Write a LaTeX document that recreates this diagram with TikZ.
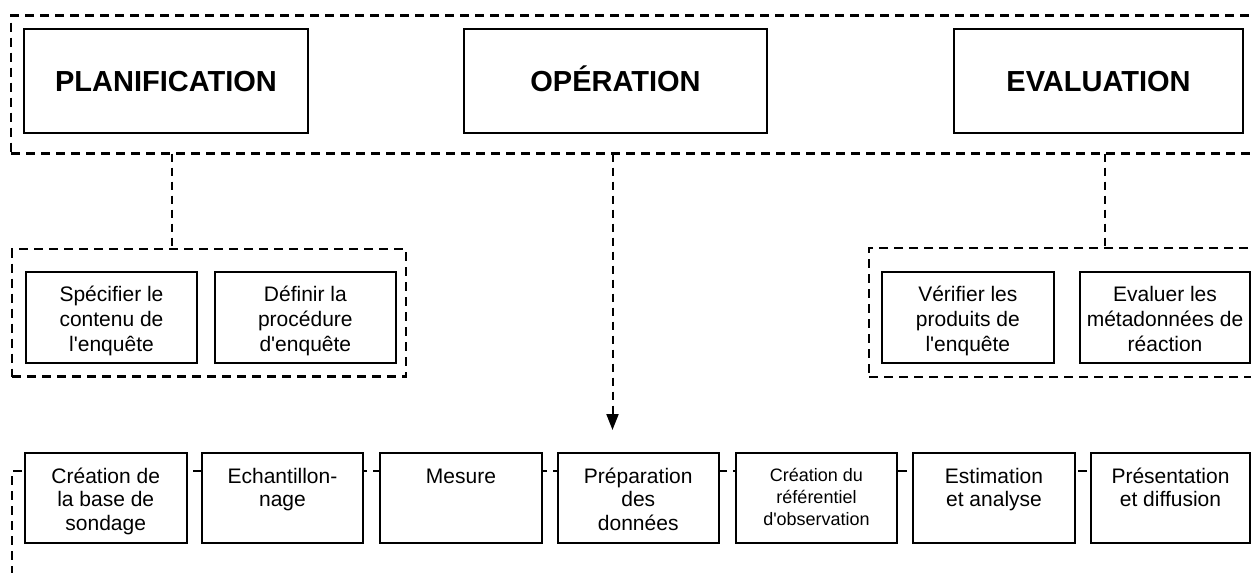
\documentclass[tikz,border=0pt]{standalone}
\usepackage{fontspec}
\setmainfont{Liberation Sans}[Ligatures=TeXOff]
\usetikzlibrary{arrows.meta}
\newcommand{\mylines}[3]{\parbox[t]{#1}{\centering\rule{0pt}{#2}#3}}
\begin{document}
\begin{tikzpicture}[x=1pt,y=-1pt,
  solidbox/.style={draw=black, line width=2pt, fill=white, inner sep=0pt, outer sep=0pt, anchor=north west},
  headbox/.style={solidbox, font=\fontsize{29}{34}\selectfont\bfseries, text height=20.8pt, text depth=0pt},
  grp/.style={draw=black, line width=2.5pt, dash pattern=on 9pt off 6pt, inner sep=0pt, outer sep=0pt, anchor=north west},
  link/.style={draw=black, line width=2pt, dash pattern=on 8pt off 6pt},
  txt/.style={anchor=north, inner sep=0pt, outer sep=0pt},
  bigtxt/.style={txt, font=\fontsize{21}{23.5}\selectfont},
  subtxt/.style={txt, font=\fontsize{21}{25}\selectfont},
  smalltxt/.style={txt, font=\fontsize{18}{22}\selectfont},
]
\useasboundingbox (0,0) rectangle (1251,573);
\clip (0,0) rectangle (1251,573);
\fill[white] (0,0) rectangle (1251,573);

% dashed groups
\node[grp, minimum width=1300pt, minimum height=138pt] (topgrp) at (11,15.5) {};
\node[grp, minimum width=394pt, minimum height=127.5pt] (plangrp) at (12,249) {};
\node[grp, minimum width=500pt, minimum height=129pt] (evalgrp) at (869,248) {};
\node[grp, minimum width=1300pt, minimum height=200pt] (botgrp) at (12,471) {};

% heading boxes
\node[headbox, minimum width=284pt, minimum height=104pt] (planH) at (24,29) {PLANIFICATION};
\node[headbox, minimum width=303pt, minimum height=104pt] (opH) at (464,29) {OPÉRATION};
\node[headbox, minimum width=289pt, minimum height=104pt] (evalH) at (954,29) {EVALUATION};

% sub boxes
\node[solidbox, minimum width=171.6pt, minimum height=90.7pt] (s1) at (25.7,272.3) {};
\node[solidbox, minimum width=180.7pt, minimum height=90.7pt] (s2) at (215,272.3) {};
\node[solidbox, minimum width=172.3pt, minimum height=90.7pt] (v1) at (881.7,272.3) {};
\node[solidbox, minimum width=170pt, minimum height=90.7pt] (v2) at (1080,272.3) {};
\node[subtxt] (s1t) at ([yshift=-9.4pt]s1.north) {\mylines{170pt}{20pt}{Spécifier le\\contenu de\\l'enquête}};
\node[subtxt] (s2t) at ([yshift=-9.4pt]s2.north) {\mylines{178pt}{20pt}{Définir la\\procédure\\d'enquête}};
\node[subtxt] (v1t) at ([yshift=-9.4pt]v1.north) {\mylines{170pt}{20pt}{Vérifier les\\produits de\\l'enquête}};
\node[subtxt] (v2t) at ([yshift=-9.4pt]v2.north) {\mylines{170pt}{20pt}{Evaluer les\\métadonnées de\\réaction}};

% bottom row
\node[solidbox, minimum width=161.5pt, minimum height=90pt] (b1) at (25,453) {};
\node[solidbox, line width=2.8pt, minimum width=161pt, minimum height=90pt] (b2) at (202,453) {};
\node[solidbox, minimum width=162pt, minimum height=90pt] (b3) at (380,453) {};
\node[solidbox, minimum width=161.5pt, minimum height=90pt] (b4) at (557.5,453) {};
\node[solidbox, minimum width=161pt, minimum height=90pt] (b5) at (736,453) {};
\node[solidbox, minimum width=162pt, minimum height=90pt] (b6) at (913,453) {};
\node[solidbox, minimum width=159pt, minimum height=90pt] (b7) at (1091,453) {};
\node[bigtxt] (b1t) at ([yshift=-10pt]b1.north) {\mylines{160pt}{20pt}{Création de\\la base de\\sondage}};
\node[bigtxt] (b2t) at ([yshift=-10pt]b2.north) {\mylines{160pt}{20pt}{Echantillon-\\nage}};
\node[bigtxt] (b3t) at ([yshift=-10pt]b3.north) {\mylines{160pt}{20pt}{Mesure}};
\node[bigtxt] (b4t) at ([yshift=-10pt]b4.north) {\mylines{160pt}{20pt}{Préparation\\des\\données}};
\node[smalltxt] (b5t) at ([yshift=-11.7pt]b5.north) {\mylines{160pt}{17pt}{Création du\\référentiel\\d'observation}};
\node[bigtxt] (b6t) at ([yshift=-10pt]b6.north) {\mylines{160pt}{20pt}{Estimation\\et analyse}};
\node[bigtxt] (b7t) at ([yshift=-10pt]b7.north) {\mylines{158pt}{20pt}{Présentation\\et diffusion}};

% connectors
\coordinate (pl) at ([xshift=5.7pt]planH.south);
\coordinate (op) at ([xshift=-3pt]opH.south);
\coordinate (ev) at ([xshift=6.5pt]evalH.south);
\draw[link] (pl |- topgrp.south) -- (pl |- plangrp.north);
\draw[link] (ev |- topgrp.south) -- (ev |- evalgrp.north);
\draw[link, shorten >=23pt, -{Triangle[length=16pt,width=12pt]}] (op |- topgrp.south) -- (op |- b4.north);
\end{tikzpicture}
\end{document}
